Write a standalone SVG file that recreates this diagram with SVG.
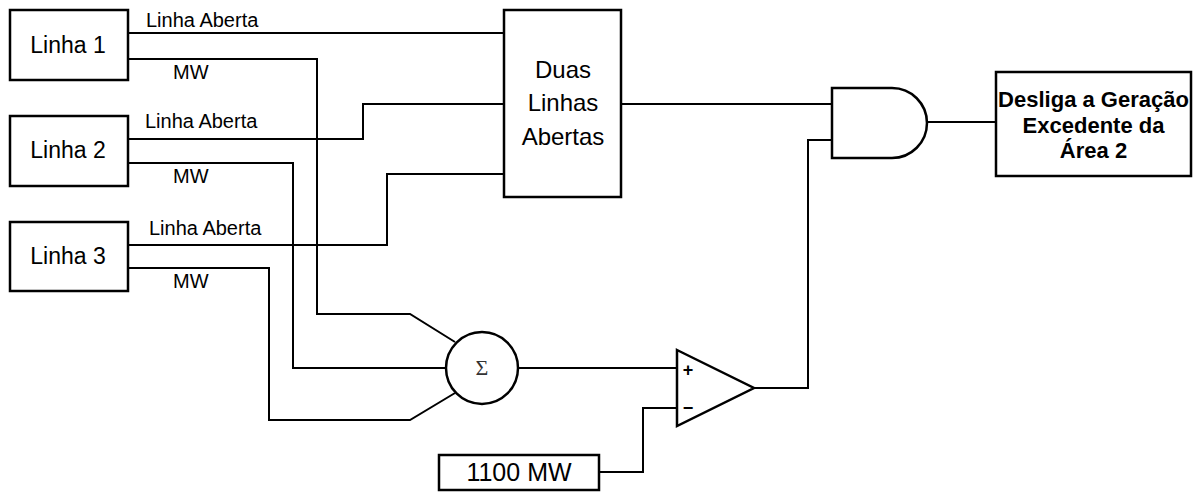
<svg xmlns="http://www.w3.org/2000/svg" width="1193" height="494" viewBox="0 0 1193 494">
<style>
.box{fill:#fff;stroke:#000;stroke-width:2.5}
.w{fill:none;stroke:#000;stroke-width:2}
.t{font-family:"Liberation Sans",Arial,sans-serif;fill:#000}
.big{font-size:23px;text-anchor:middle}
.mid{font-size:24px;text-anchor:middle}
.lbl{font-size:20px}
.bold{font-size:22px;font-weight:bold;text-anchor:middle}
</style>
<rect width="1193" height="494" fill="#fff"/>
<g id="connectors">
<path class="w" d="M128,33 H504"/>
<path class="w" d="M128,59 H317 V314 H410 L455,342"/>
<path class="w" d="M128,139 H363 V104 H504"/>
<path class="w" d="M128,163 H293 V368 H446"/>
<path class="w" d="M128,245 H387 V174 H504"/>
<path class="w" d="M128,268 H269 V420 H410 L455,393"/>
<path class="w" d="M621,104 H832"/>
<path class="w" d="M518,368 H677"/>
<path class="w" d="M599,472 H643 V408 H677"/>
<path class="w" d="M754,388 H808 V140 H832"/>
<path class="w" d="M927,122 H996"/>
</g>
<g id="linha1">
<rect class="box" x="10" y="10" width="118" height="70"/>
<text class="t big" x="68" y="53">Linha 1</text>
<text class="t lbl" x="146" y="27">Linha Aberta</text>
<text class="t lbl" x="173" y="79">MW</text>
</g>
<g id="linha2">
<rect class="box" x="10" y="116" width="118" height="70"/>
<text class="t big" x="68" y="158">Linha 2</text>
<text class="t lbl" x="145" y="128">Linha Aberta</text>
<text class="t lbl" x="173" y="183">MW</text>
</g>
<g id="linha3">
<rect class="box" x="10" y="222" width="118" height="69"/>
<text class="t big" x="68" y="264">Linha 3</text>
<text class="t lbl" x="149" y="235">Linha Aberta</text>
<text class="t lbl" x="173" y="288">MW</text>
</g>
<g id="duas">
<rect class="box" x="504" y="10" width="117" height="187"/>
<text class="t mid" x="563" y="78">Duas</text>
<text class="t mid" x="563" y="111">Linhas</text>
<text class="t mid" x="563" y="145">Abertas</text>
</g>
<g id="and">
<path class="box" d="M832,88 H892 A35,35 0 0 1 892,158 H832 Z"/>
</g>
<g id="desliga">
<rect class="box" x="996" y="72" width="195" height="104"/>
<text class="t bold" x="1093.5" y="107">Desliga a Geração</text>
<text class="t bold" x="1093.5" y="133">Excedente da</text>
<text class="t bold" x="1093.5" y="158">Área 2</text>
</g>
<g id="soma">
<circle class="box" cx="482" cy="368" r="36"/>
<text x="482" y="375" font-family="'Liberation Serif','DejaVu Serif',serif" font-size="22" fill="#333" text-anchor="middle">Σ</text>
</g>
<g id="comparador">
<path class="box" d="M677,350 L754,388 L677,426 Z"/>
<text class="t" x="688" y="376" font-size="18" font-weight="bold" text-anchor="middle">+</text>
<text class="t" x="688" y="414" font-size="18" font-weight="bold" text-anchor="middle">−</text>
</g>
<g id="ref1100">
<rect class="box" x="439" y="455" width="160" height="35"/>
<text class="t" x="519" y="481" font-size="25" text-anchor="middle">1100 MW</text>
</g>
</svg>
